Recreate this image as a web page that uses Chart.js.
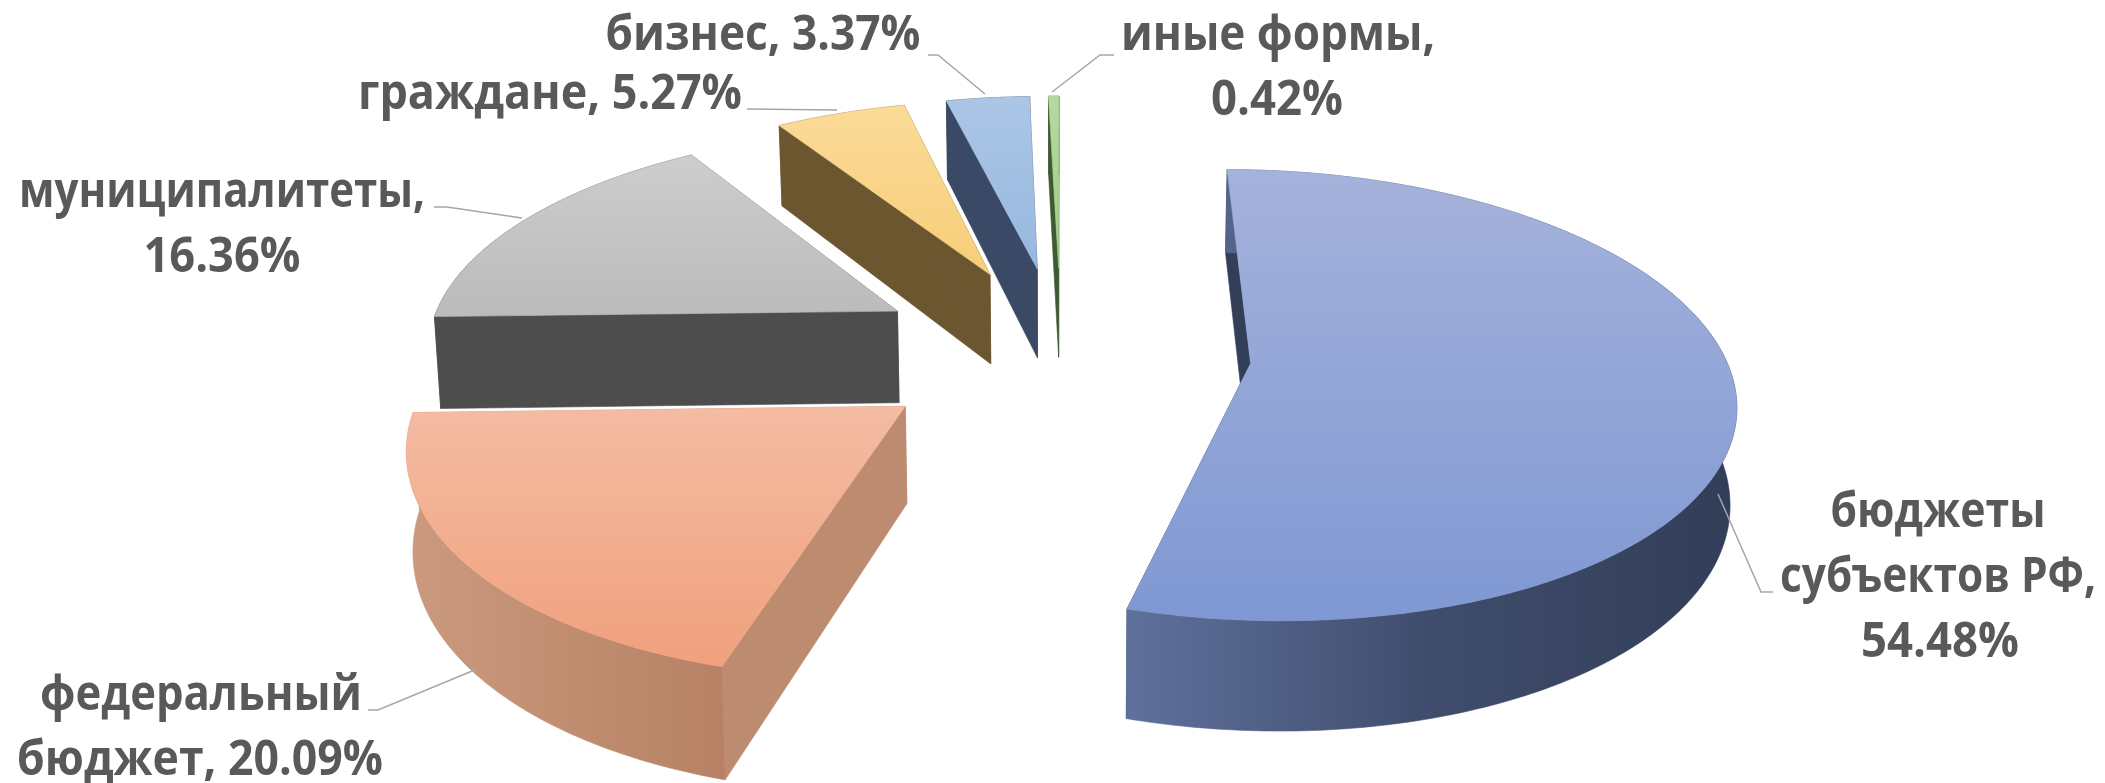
<!DOCTYPE html>
<html>
<head>
<meta charset="utf-8">
<title>Структура финансирования</title>
<script src="https://cdn.jsdelivr.net/npm/chart.js@4"></script>
<style>
    html, body { margin: 0; padding: 0; background: #fff; }
    #wrap { width: 2105px; height: 783px; }
</style>
</head>
<body>
<div id="wrap"><canvas id="pieChart" width="2105" height="783"></canvas></div>
<script>
const categories = ['бюджеты субъектов РФ', 'федеральный бюджет', 'муниципалитеты', 'граждане', 'бизнес', 'иные формы'];
const shares = [54.48, 20.09, 16.36, 5.27, 3.37, 0.42];
const topColors = ['#8FA3D6', '#F1AC8C', '#C4C4C4', '#F9D387', '#A1BEE2', '#A9D18E'];

// face colours: top gradient, outer wall gradient, flat side wall
const faces = [
    { top: ['#A5B2DB', '#7F98D3'], wall: ['#5F709C', '#3F4C6C', '#323E58'], side: '#333F58' },
    { top: ['#F4BCA3', '#F0A07C'], wall: ['#CB9A7E', '#AB7357'], side: '#BD8B70' },
    { top: ['#CDCDCD', '#BBBBBB'], wall: ['#4D4D4D', '#4D4D4D'], side: '#4D4D4D' },
    { top: ['#FBDB98', '#F7CD78'], wall: ['#6B5630', '#6B5630'], side: '#6B5630' },
    { top: ['#ABC6E6', '#97B8E0'], wall: ['#3A4A66', '#3A4A66'], side: '#3A4A66' },
    { top: ['#B4DAA2', '#9CCB85'], wall: ['#3F5A30', '#3F5A30'], side: '#3F5A30' }
];

// label lines: text, centre x, baseline y, width
const labelLines = [
    ['бизнес, ' + shares[4].toFixed(2) + '%', 763, 50, 315],
    ['граждане, ' + shares[3].toFixed(2) + '%', 550, 109, 384],
    ['муниципалитеты,', 222, 207, 406],
    [shares[2].toFixed(2) + '%', 222, 272, 157],
    ['иные формы,', 1278, 50, 314],
    [shares[5].toFixed(2) + '%', 1277, 115, 132],
    ['федеральный', 201, 710, 322],
    ['бюджет, ' + shares[1].toFixed(2) + '%', 200, 775, 366],
    ['бюджеты', 1938, 527, 215],
    ['субъектов РФ,', 1938, 592, 316],
    [shares[0].toFixed(2) + '%', 1940, 657, 158]
];
const leaders = [
    [[928, 55], [938, 55], [985, 94]],
    [[747, 109], [837, 110]],
    [[434, 207], [447, 207], [522, 218]],
    [[1114, 55], [1100, 55], [1052, 92]],
    [[368, 710], [378, 710], [477, 669]],
    [[1773, 592], [1761, 592], [1718, 494]]
];

const TILT = 0.46;     // y squash of the pie plane
const PERSP = 0.14;    // nearer rim looks larger
const DEPTH = 94;      // wall height
const WALL_PULL = 0.99;

const pie3d = {
    id: 'pie3d',
    beforeDatasetsDraw(chart) {
        const ctx = chart.ctx;
        const arcs = chart.getDatasetMeta(0).data;
        // back to front
        for (let i = arcs.length - 1; i >= 0; i--) {
            drawSlice(ctx, arcs[i], faces[i]);
        }
        return false;
    },
    afterDraw(chart) {
        const ctx = chart.ctx;
        ctx.save();
        ctx.strokeStyle = '#A6A6A6';
        ctx.lineWidth = 1.5;
        leaders.forEach(pts => {
            ctx.beginPath();
            pts.forEach((p, i) => i ? ctx.lineTo(p[0], p[1]) : ctx.moveTo(p[0], p[1]));
            ctx.stroke();
        });
        ctx.fillStyle = '#595959';
        ctx.font = 'bold 48px "Open Sans"';
        ctx.textAlign = 'center';
        labelLines.forEach(l => ctx.fillText(l[0], l[1], l[2], l[3]));
        ctx.restore();
    }
};

function drawSlice(ctx, arc, face) {
    const R = arc.outerRadius;
    const mid = (arc.startAngle + arc.endAngle) / 2;
    const ox = Math.cos(mid) * arc.options.offset;
    const oy = Math.sin(mid) * arc.options.offset;
    const project = (x, y) => {
        const t = 1 / (1 - PERSP * y / R);
        return { x: arc.x + x * t, y: arc.y + y * TILT * t, t: t };
    };
    const lower = p => ({ x: arc.x + (p.x - arc.x) * WALL_PULL, y: p.y + DEPTH * p.t });

    const apex = project(ox, oy);
    const rim = [];
    const steps = Math.max(2, Math.ceil((arc.endAngle - arc.startAngle) / 0.015));
    for (let s = 0; s <= steps; s++) {
        const a = arc.startAngle + (arc.endAngle - arc.startAngle) * s / steps;
        rim.push(project(ox + Math.cos(a) * R, oy + Math.sin(a) * R));
    }
    const xs = rim.map(p => p.x).concat(apex.x);
    const ys = rim.map(p => p.y).concat(apex.y);
    const minX = Math.min(...xs), maxX = Math.max(...xs);
    const minY = Math.min(...ys), maxY = Math.max(...ys);

    const poly = pts => {
        ctx.beginPath();
        pts.forEach((p, i) => i ? ctx.lineTo(p.x, p.y) : ctx.moveTo(p.x, p.y));
        ctx.closePath();
    };
    const paint = style => {
        ctx.fillStyle = style;
        ctx.strokeStyle = style;
        ctx.lineWidth = 0.6;
        ctx.fill();
        ctx.stroke();
    };

    // radial walls
    [rim[0], rim[rim.length - 1]].forEach(p => {
        poly([apex, p, lower(p), lower(apex)]);
        paint(face.side);
    });

    // outer wall
    const wallGrad = ctx.createLinearGradient(minX, 0, maxX, 0);
    face.wall.forEach((c, i) => wallGrad.addColorStop(i / (face.wall.length - 1), c));
    poly(rim.concat(rim.slice().reverse().map(lower)));
    paint(wallGrad);

    // top
    const topGrad = ctx.createLinearGradient(0, minY, 0, maxY);
    topGrad.addColorStop(0, face.top[0]);
    topGrad.addColorStop(1, face.top[1]);
    poly([apex].concat(rim));
    paint(topGrad);
}

new Chart(document.getElementById('pieChart').getContext('2d'), {
    type: 'pie',
    data: {
        labels: categories,
        datasets: [{
            data: shares,
            backgroundColor: topColors,
            borderWidth: 0,
            radius: 473,
            offset: 190
        }]
    },
    options: {
        responsive: false,
        animation: false,
        events: [],
        rotation: 0,
        layout: { padding: { left: 17, bottom: 81 } },
        plugins: {
            legend: { display: false },
            tooltip: { enabled: false }
        }
    },
    plugins: [pie3d]
});
</script>
</body>
</html>
